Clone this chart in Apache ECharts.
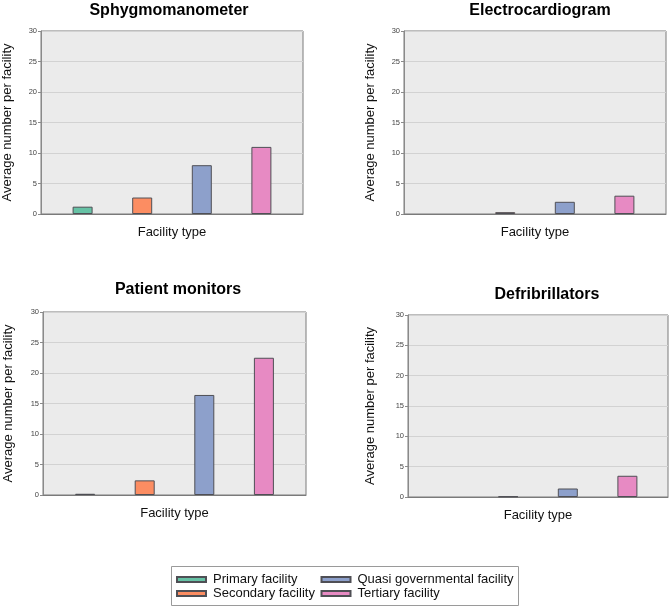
<!DOCTYPE html>
<html>
<head>
<meta charset="utf-8">
<script src="https://cdn.jsdelivr.net/npm/echarts@6/dist/echarts.min.js"></script>
<style>
html,body{margin:0;padding:0;background:#fff;}
#chart{width:669px;height:607px;}
</style>
</head>
<body>
<div id="chart"></div>
<script>
const categories = ['Facility type'];
const facilityTypes = ['Primary facility', 'Secondary facility', 'Quasi governmental facility', 'Tertiary facility'];
const panelTitles = ['Sphygmomanometer', 'Electrocardiogram', 'Patient monitors', 'Defribrillators'];
const sphygmomanometer = [1.2, 2.7, 8.0, 11.0];
const electrocardiogram = [0, 0.3, 2.0, 3.0];
const patientMonitors = [0.2, 2.4, 16.4, 22.5];
const defibrillators = [0, 0.1, 1.4, 3.5];
const yTicks = [0, 5, 10, 15, 20, 25, 30];
const panelValues = [sphygmomanometer, electrocardiogram, patientMonitors, defibrillators];

const colors = ['#66c2a5', '#fc8d62', '#8da0cb', '#e78ac3'];
const FONT = "'Liberation Sans', Arial, sans-serif";

const grids = [
  {left: 41, top: 31, width: 262, height: 183},
  {left: 404, top: 31, width: 262, height: 183},
  {left: 43, top: 312, width: 263, height: 183},
  {left: 408, top: 315, width: 260, height: 182}
];
const titlePos = [
  {x: 169, y: 2.5},
  {x: 540, y: 2.5},
  {x: 178, y: 282},
  {x: 547, y: 287}
];
const yNameGaps = [27, 27, 28, 31.5];
const xNameGaps = [12, 12, 12, 12];

const option = {
  backgroundColor: '#ffffff',
  animation: false,
  textStyle: {fontFamily: FONT},
  title: panelTitles.map((t, i) => ({
    text: t,
    left: titlePos[i].x,
    top: titlePos[i].y,
    textAlign: 'center',
    padding: 0,
    textStyle: {fontSize: 16, fontWeight: 'bold', color: '#000', fontFamily: FONT}
  })),
  grid: grids.map(g => Object.assign({
    show: true,
    backgroundColor: '#ebebeb',
    borderColor: '#7a7a7a',
    borderWidth: 1,
    containLabel: false
  }, g)),
  xAxis: grids.map((g, i) => ({
    type: 'category',
    gridIndex: i,
    data: categories,
    name: categories[0],
    nameLocation: 'middle',
    nameGap: xNameGaps[i],
    nameTextStyle: {fontSize: 13, color: '#111', fontFamily: FONT},
    axisLine: {show: true, lineStyle: {color: '#7a7a7a', width: 1}},
    axisTick: {show: false},
    axisLabel: {show: false}
  })),
  yAxis: grids.map((g, i) => ({
    type: 'value',
    gridIndex: i,
    min: yTicks[0],
    max: yTicks[yTicks.length - 1],
    interval: yTicks[1] - yTicks[0],
    name: 'Average number per facility',
    nameLocation: 'middle',
    nameGap: yNameGaps[i],
    nameRotate: 90,
    nameTextStyle: {fontSize: 13, color: '#111', fontFamily: FONT},
    axisLine: {show: true, lineStyle: {color: '#8a8a8a', width: 1}},
    axisTick: {show: true, length: 3, lineStyle: {color: '#8a8a8a'}},
    axisLabel: {fontSize: 7.5, color: '#444', margin: 4, fontFamily: FONT},
    splitLine: {show: true, lineStyle: {color: '#d2d2d2', width: 1}}
  })),
  legend: [
    {
      data: [facilityTypes[0], facilityTypes[1]],
      orient: 'vertical',
      left: 176,
      top: 573,
      padding: 0,
      itemGap: 1,
      itemWidth: 29,
      itemHeight: 5,
      icon: 'rect',
      textStyle: {fontSize: 13, color: '#111', fontFamily: FONT, padding: [0, 0, 0, 2]}
    },
    {
      data: [facilityTypes[2], facilityTypes[3]],
      orient: 'vertical',
      left: 320.5,
      top: 573,
      padding: 0,
      itemGap: 1,
      itemWidth: 29,
      itemHeight: 5,
      icon: 'rect',
      textStyle: {fontSize: 13, color: '#111', fontFamily: FONT, padding: [0, 0, 0, 2]}
    }
  ],
  graphic: [{
    type: 'rect',
    z: -1,
    shape: {x: 171.5, y: 566.5, width: 347, height: 39},
    style: {fill: '#fff', stroke: '#9a9a9a', lineWidth: 1}
  }],
  series: []
};

panelValues.forEach((vals, p) => {
  facilityTypes.forEach((name, k) => {
    const v = vals[k];
    option.series.push({
      type: 'bar',
      name: name,
      xAxisIndex: p,
      yAxisIndex: p,
      data: [v === 0 ? {value: v, itemStyle: {borderWidth: 0, opacity: 0}} : v],
      barWidth: 20,
      barGap: '198%',
      itemStyle: {color: colors[k], borderColor: '#4f4f55', borderWidth: 1},
      emphasis: {disabled: true}
    });
  });
});

const chart = echarts.init(document.getElementById('chart'), null, {renderer: 'canvas'});
chart.setOption(option);
</script>
</body>
</html>
